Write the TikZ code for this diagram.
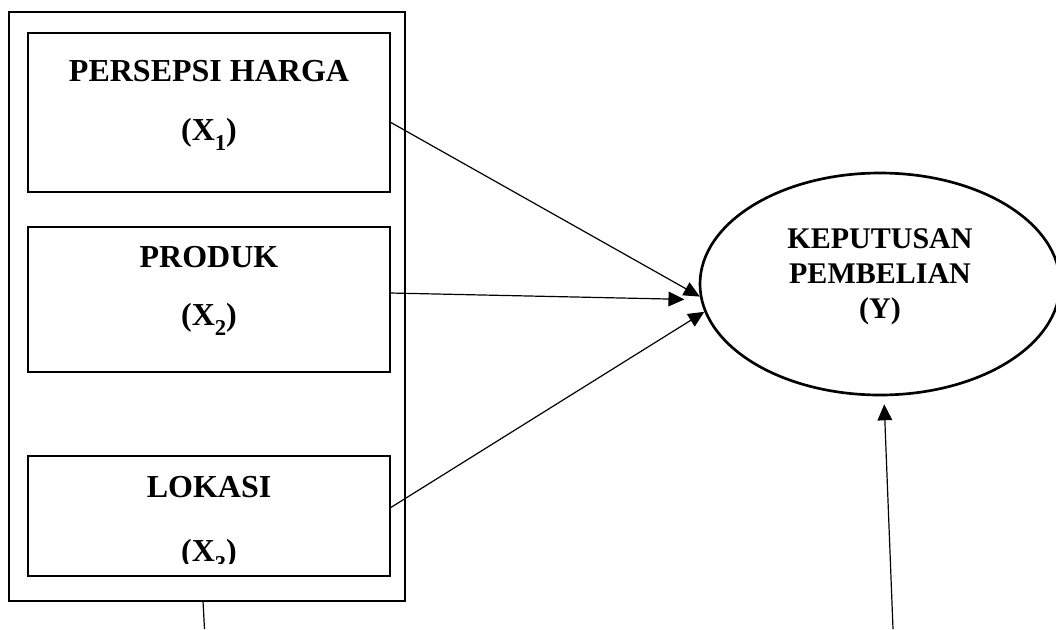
\documentclass[tikz,border=0pt]{standalone}
\usepackage{fontspec}
\setmainfont{Liberation Serif}
\usetikzlibrary{arrows.meta,shapes.geometric,calc}
\newcommand{\mysub}[1]{\raisebox{-8pt}{\fontsize{17}{17}\selectfont #1}}
\begin{document}
\begin{tikzpicture}[x=0.75pt,y=-0.75pt,
  frame/.style={draw, line width=2pt, rectangle, inner sep=0pt, outer sep=0pt},
  lbl/.style={font=\fontsize{24}{26}\selectfont\bfseries, inner sep=0pt, anchor=center},
  elbl/.style={font=\fontsize{22.5}{26.25}\selectfont\bfseries, inner sep=0pt, align=center},
  conn/.style={line width=0.9pt, -{Triangle[length=12pt,width=11pt]}},
  plain/.style={line width=0.9pt},
]
\useasboundingbox (0,0) rectangle (1056,629);
% outer frame
\node[frame, minimum width=396*0.75pt, minimum height=589*0.75pt] (outer) at (207,306.5) {};
% inner boxes
\node[frame, minimum width=362*0.75pt, minimum height=159*0.75pt] (b1) at (209,112.5) {};
\node[frame, minimum width=362*0.75pt, minimum height=145*0.75pt] (b2) at (209,299.5) {};
% labels
\node[lbl] (t1a) at (209,71) {PERSEPSI HARGA};
\node[lbl, anchor=base] (t1b) at (209,140) {(X\mysub{1})};
\node[lbl] (t2a) at (209,257) {PRODUK};
\node[lbl, anchor=base] (t2b) at (209,325) {(X\mysub{2})};
\node[lbl] (t3a) at (209,487) {LOKASI};
\node[lbl, anchor=base] (t3b) at (209,561) {(X\mysub{3})};
\fill[white] ($(209,564)+(-150,0)$) rectangle ($(209,576)+(150,14)$);
\node[frame, minimum width=362*0.75pt, minimum height=120*0.75pt] (b3) at (209,516) {};
% ellipse
\node[draw, ellipse, line width=2pt, minimum width=360*0.75pt, minimum height=222*0.75pt, inner sep=0pt] (e) at (880,284) {};
\node[elbl] (et) at (880,277) {KEPUTUSAN\\PEMBELIAN\\(Y)};
% connectors
\draw[conn] ($(b1.east)+(0,9.5)$) -- (e.184);
\draw[conn, shorten >=12pt] ($(b2.east)+(0,-6.5)$) -- (e.185);
\draw[conn] ($(b3.east)+(0,-8)$) -- (e.189);
\coordinate (f) at (893,629);
\draw[conn, shorten >=6pt] (f) -- (e.272);
\coordinate (g) at (204.5,629);
\draw[plain] ($(outer.south)+(-4,0)$) -- (g);
\end{tikzpicture}
\end{document}
